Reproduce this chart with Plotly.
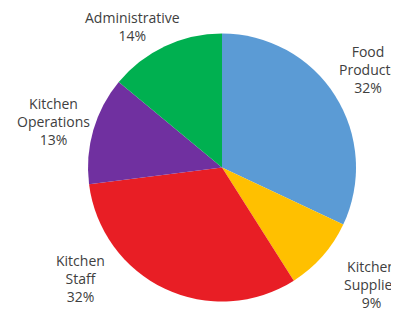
import plotly.graph_objects as go

categories = ["Food Products", "Kitchen Supplies", "Kitchen Staff", "Kitchen Operations", "Administrative"]
label_text = ["Food<br>Products", "Kitchen<br>Supplies", "Kitchen<br>Staff", "Kitchen<br>Operations", "Administrative"]
values = [32, 9, 32, 13, 14]
colors = ["#5B9BD5", "#FFC000", "#E81E25", "#7030A0", "#00B050"]

# label anchor positions in window pixels (x, y)
label_pos = [(368, 70), (371, 284), (80, 278), (53, 121), (132, 27)]

# the page body adds an 8px offset; the figure fills the rest of the window
OFF = 8
WIN_W, WIN_H = 399, 310
W, H = WIN_W - OFF, WIN_H - OFF


def fx(px):
    return (px - OFF) / W


def fy(py):
    return 1 - (py - OFF) / H


fig = go.Figure(go.Pie(
    labels=categories,
    values=values,
    sort=False,
    direction="clockwise",
    rotation=0,
    marker=dict(colors=colors, line=dict(width=0)),
    textinfo="none",
    hoverinfo="label+percent",
    domain=dict(x=[fx(88), fx(356)], y=[fy(302), fy(33)]),
    showlegend=False,
))

total = sum(values)
for txt, v, (px, py) in zip(label_text, values, label_pos):
    fig.add_annotation(
        x=fx(px), y=fy(py), xref="paper", yref="paper",
        text=f"{txt}<br>{round(100 * v / total)}%",
        showarrow=False, xanchor="center", yanchor="middle",
        font=dict(family="Open Sans", size=14, color="#404040"),
        align="center",
    )

fig.update_layout(
    width=W, height=H,
    margin=dict(l=0, r=0, t=0, b=0),
    paper_bgcolor="white", plot_bgcolor="white",
)
fig.write_html("out.html")
